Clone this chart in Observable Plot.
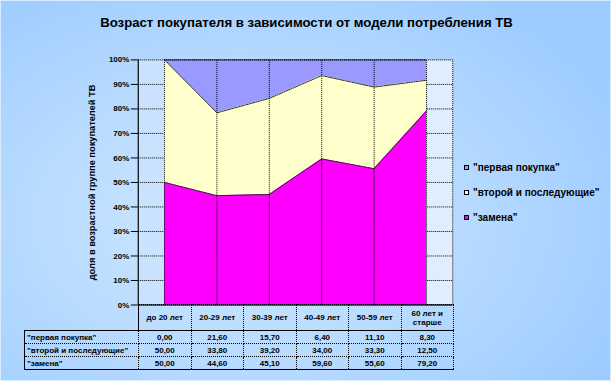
<!DOCTYPE html>
<html><head><meta charset="utf-8">
<script src="https://cdn.jsdelivr.net/npm/d3@7"></script>
<script src="https://cdn.jsdelivr.net/npm/@observablehq/plot@0.6"></script>
<style>
body{margin:0;}
#wrap{position:relative;width:611px;height:381px;overflow:hidden;font-family:"Liberation Sans",Arial,sans-serif;font-weight:bold;color:#000;
 background: radial-gradient(ellipse 70% 75% at 40% 58%, #d2e8ff 0%, #b8dbff 50%, #9ccbff 100%);
 box-sizing:border-box;border:1px solid #d8ebff;}
#title{position:absolute;left:0;width:611px;top:13px;text-align:center;font-size:13.2px;line-height:17px;}
#plotbg{position:absolute;left:137px;top:58.5px;width:315px;height:245.5px;background:linear-gradient(90deg,#c9e2ff 0%,#d9ebff 60%,#e0eeff 100%);}
#chart{position:absolute;left:-1px;top:-1px;}
#legend{position:absolute;left:463px;top:0;font-size:10px;}
.li{position:absolute;white-space:nowrap;height:12px;line-height:12px;}
.sw{position:absolute;left:0;top:3px;width:5px;height:5px;border:1px solid #000;box-sizing:border-box;}
.lt{position:absolute;left:9px;top:0;}
#tbl{position:absolute;left:23px;top:303px;border-collapse:collapse;table-layout:fixed;font-size:8px;}
#tbl td{border:1px dotted #000;padding:0;text-align:center;line-height:9px;overflow:hidden;}
#tbl tr.hdr td{height:25px;border-bottom:1px solid #000;}
#tbl tr.hdr td.corner{border:none;border-bottom:1px solid #000;}
#tbl tr.hdr td.c0{border-left:1px solid #000;}
#tbl tr.row td{height:12px;}
#tbl tr.row td.lab{text-align:left;padding-left:2px;border-left:1px solid #000;white-space:nowrap;}
#tbl tr.last td{border-bottom:1px solid #000;}
</style></head>
<body>
<div id="wrap">
  <div id="title"></div>
  <div id="plotbg"></div>
  <div id="chart"></div>
  <div id="legend"></div>
  <table id="tbl"></table>
</div>
<script>
const titleText = "Возраст покупателя в зависимости от модели потребления ТВ";
const yLabel = "доля в возрастной группе покупателей ТВ";
const categories = ["до 20 лет","20-29 лет","30-39 лет","40-49 лет","50-59 лет","60 лет и старше"];
const seriesNames = ['"первая покупка"','"второй и последующие"','"замена"'];
const firstPurchase = [0.0, 21.6, 15.7, 6.4, 11.1, 8.3];
const secondPurchase = [50.0, 33.8, 39.2, 34.0, 33.3, 12.5];
const replacement = [50.0, 44.6, 45.1, 59.6, 55.6, 79.2];
const seriesColors = ["#9999ff","#ffffcc","#ff00ff"];
const yTicks = [0,10,20,30,40,50,60,70,80,90,100];

const valuesBySeries = [firstPurchase, secondPurchase, replacement];
const long = seriesNames.flatMap((s,k) => categories.map((c,i) => ({i, category:c, series:s, value:valuesBySeries[k][i]})));
const stackOrder = [seriesNames[2], seriesNames[1], seriesNames[0]];

document.getElementById("title").textContent = titleText;

const chart = Plot.plot({
  width:611, height:381, marginLeft:138, marginRight:158, marginTop:59.5, marginBottom:76,
  style:{background:"transparent", fontFamily:"Liberation Sans, Arial, sans-serif", fontSize:"8px", fontWeight:"bold", color:"#000", overflow:"visible"},
  x:{domain:[-0.5, categories.length-0.5], axis:null},
  y:{domain:[0,100], axis:null},
  color:{domain:seriesNames, range:seriesColors},
  marks:[
    Plot.ruleY(yTicks.filter(t => t>0 && t<100), {stroke:"#000", strokeDasharray:"1,1"}),
    Plot.areaY(long, {x:"i", y:"value", fill:"series", order:stackOrder}),
    Plot.lineY(long, Plot.stackY2({x:"i", y:"value", z:"series", order:stackOrder, stroke:"#222", strokeWidth:1, strokeDasharray:"1.5,1"})),
    Plot.ruleX(d3.range(categories.length), {y1:0, y2:100, stroke:"#000", strokeDasharray:"1,1"}),
    Plot.frame({stroke:"#000", strokeDasharray:"1,1"}),
    Plot.axisY({ticks:yTicks, tickFormat:d => d + "%", tickSize:7, tickPadding:2, label:null}),
    Plot.ruleX([-0.5], {stroke:"#000"}),
    Plot.ruleY([0], {stroke:"#000"}),
    Plot.text([yLabel], {frameAnchor:"left", textAnchor:"middle", rotate:-90, dx:-46, fontSize:9.3})
  ]
});
document.getElementById("chart").appendChild(chart);

// legend
const legendY = [161, 186, 211];
const legend = d3.select("#legend");
seriesNames.forEach((s,k) => {
  const li = legend.append("div").attr("class","li").style("top", legendY[k] + "px");
  li.append("div").attr("class","sw").style("background", seriesColors[k]);
  li.append("div").attr("class","lt").text(s);
});

// data table
const fmt = v => v.toFixed(2).replace(".", ",");
const tbl = d3.select("#tbl");
const colg = tbl.append("colgroup");
colg.append("col").style("width","114px");
categories.forEach(() => colg.append("col").style("width","52.5px"));
const hdr = tbl.append("tr").attr("class","hdr");
hdr.append("td").attr("class","corner");
categories.forEach((c,i) => hdr.append("td").attr("class", i===0 ? "c0" : null).text(c));
seriesNames.forEach((s,k) => {
  const tr = tbl.append("tr").attr("class", "row" + (k===seriesNames.length-1 ? " last" : ""));
  tr.append("td").attr("class","lab").text(s);
  valuesBySeries[k].forEach(v => tr.append("td").text(fmt(v)));
});
</script>
</body></html>
